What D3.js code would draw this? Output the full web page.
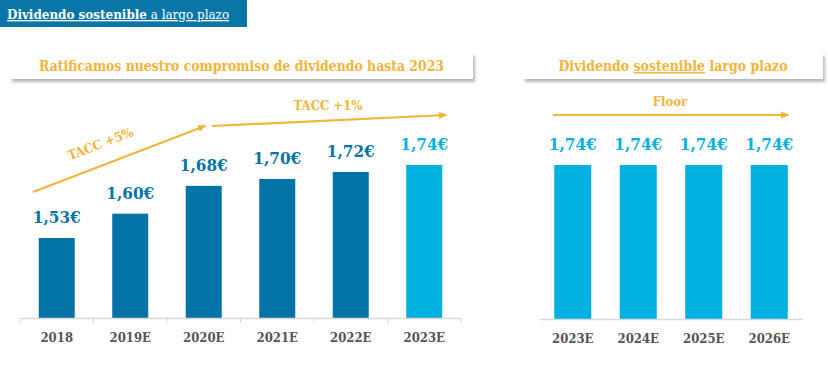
<!DOCTYPE html>
<html><head><meta charset="utf-8">
<script src="https://cdn.jsdelivr.net/npm/d3@7"></script>
<style>body{margin:0;background:#fff}svg{display:block}text{font-family:"DejaVu Serif Condensed","DejaVu Serif",serif;font-stretch:condensed}</style>
</head><body><svg id="c" width="828" height="365"></svg>
<script>
const leftCats = ["2018","2019E","2020E","2021E","2022E","2023E"];
const leftVals = [1.53,1.60,1.68,1.70,1.72,1.74];
const leftLabels = ["1,53€","1,60€","1,68€","1,70€","1,72€","1,74€"];
const rightCats = ["2023E","2024E","2025E","2026E"];
const rightVals = [1.74,1.74,1.74,1.74];
const rightLabels = ["1,74€","1,74€","1,74€","1,74€"];

const svg = d3.select("#c");
const dark = "#0474a8", light = "#02b1e0", orange = "#f3b43a", gray = "#555";

const defs = svg.append("defs");
const f = defs.append("filter").attr("id","sh").attr("x","-5%").attr("y","-30%").attr("width","110%").attr("height","170%");
f.append("feDropShadow").attr("dx",2).attr("dy",3).attr("stdDeviation",1.5).attr("flood-color","#999").attr("flood-opacity",0.7);
const ah = defs.append("marker").attr("id","ah").attr("viewBox","0 0 10 10").attr("refX",8).attr("refY",5)
  .attr("markerWidth",4).attr("markerHeight",4).attr("orient","auto");
ah.append("path").attr("d","M0,1L10,5L0,9Z").attr("fill",orange);

// top banner
svg.append("rect").attr("x",0).attr("y",0).attr("width",247).attr("height",27).attr("fill","#0a76a8");
const bt = svg.append("text").attr("x",7).attr("y",19).attr("fill","#fff").attr("font-size",13.3)
  .attr("text-decoration","underline");
bt.append("tspan").attr("font-weight","bold").text("Dividendo sostenible");
bt.append("tspan").text(" a largo plazo");

// title boxes
function titleBox(x0,x1,label,underlinePart,len){
  svg.append("rect").attr("x",x0).attr("y",53).attr("width",x1-x0).attr("height",26).attr("fill","#fff").attr("filter","url(#sh)");
  const t = svg.append("text").attr("x",(x0+x1)/2).attr("y",71).attr("text-anchor","middle").attr("fill",orange)
    .attr("font-weight","bold").attr("font-size",14.5).attr("textLength",len).attr("lengthAdjust","spacingAndGlyphs");
  label.forEach((p,i)=>{ const s=t.append("tspan").text(p); if(i===underlinePart) s.attr("text-decoration","underline"); });
}
titleBox(10,473,["Ratificamos nuestro compromiso de dividendo hasta 2023"],-1,405);
titleBox(523,823,["Dividendo ","sostenible"," largo plazo"],1,229);

const y = d3.scaleLinear().domain([1.30,1.74]).range([318,165]);

function panel(cats,vals,labels,x0,x1,pad,colorFn,labelColorFn,ticks,baseY){
  const x = d3.scaleBand().domain(cats).range([x0,x1]).paddingInner(pad).paddingOuter(pad/2);
  const g = svg.append("g");
  g.selectAll("rect.bar").data(cats).join("rect").attr("class","bar")
    .attr("x",d=>x(d)).attr("width",x.bandwidth())
    .attr("y",(d,i)=>y(vals[i])).attr("height",(d,i)=>baseY-y(vals[i]))
    .attr("fill",(d,i)=>colorFn(i));
  g.selectAll("text.val").data(cats).join("text").attr("class","val")
    .attr("x",d=>x(d)+x.bandwidth()/2).attr("y",(d,i)=>y(vals[i])-15)
    .attr("text-anchor","middle").attr("font-size",17).attr("font-weight","bold")
    .attr("fill",(d,i)=>labelColorFn(i)).text((d,i)=>labels[i]);
  const ax = svg.append("g").attr("transform",`translate(0,${baseY})`)
    .call(d3.axisBottom(x).tickSize(0).tickPadding(15));
  ax.select(".domain").attr("stroke","#d9d9d9").attr("stroke-width",1.5);
  ax.selectAll("text").attr("font-family",null).attr("font-weight","bold").attr("font-size",13).attr("fill",gray);
  if(ticks){
    const b = cats.map(c=>x(c)-x.step()*pad/2).concat([x1]);
    ax.selectAll("line.tk").data(b).join("line").attr("class","tk")
      .attr("x1",d=>d).attr("x2",d=>d).attr("y1",0).attr("y2",5).attr("stroke","#d9d9d9");
  }
  return x;
}
panel(leftCats,leftVals,leftLabels,20,461,0.51,i=>i===5?light:dark,i=>i===5?light:dark,true,318);
panel(rightCats,rightVals,rightLabels,540,802,0.435,()=>light,()=>light,false,319);

// arrows
function arrow(x1,y1,x2,y2){
  svg.append("line").attr("x1",x1).attr("y1",y1).attr("x2",x2).attr("y2",y2)
    .attr("stroke",orange).attr("stroke-width",2.2).attr("marker-end","url(#ah)");
}
arrow(33,192,205,126);
arrow(212,126,446,115);
arrow(553,115,788,115);

svg.append("text").attr("transform","translate(102,148) rotate(-21)").attr("text-anchor","middle")
  .attr("fill",orange).attr("font-weight","bold").attr("font-size",13).text("TACC +5%");
svg.append("text").attr("x",328).attr("y",110).attr("text-anchor","middle")
  .attr("fill",orange).attr("font-weight","bold").attr("font-size",13).text("TACC +1%");
svg.append("text").attr("x",670).attr("y",106).attr("text-anchor","middle")
  .attr("fill",orange).attr("font-weight","bold").attr("font-size",13).text("Floor");
</script></body></html>
